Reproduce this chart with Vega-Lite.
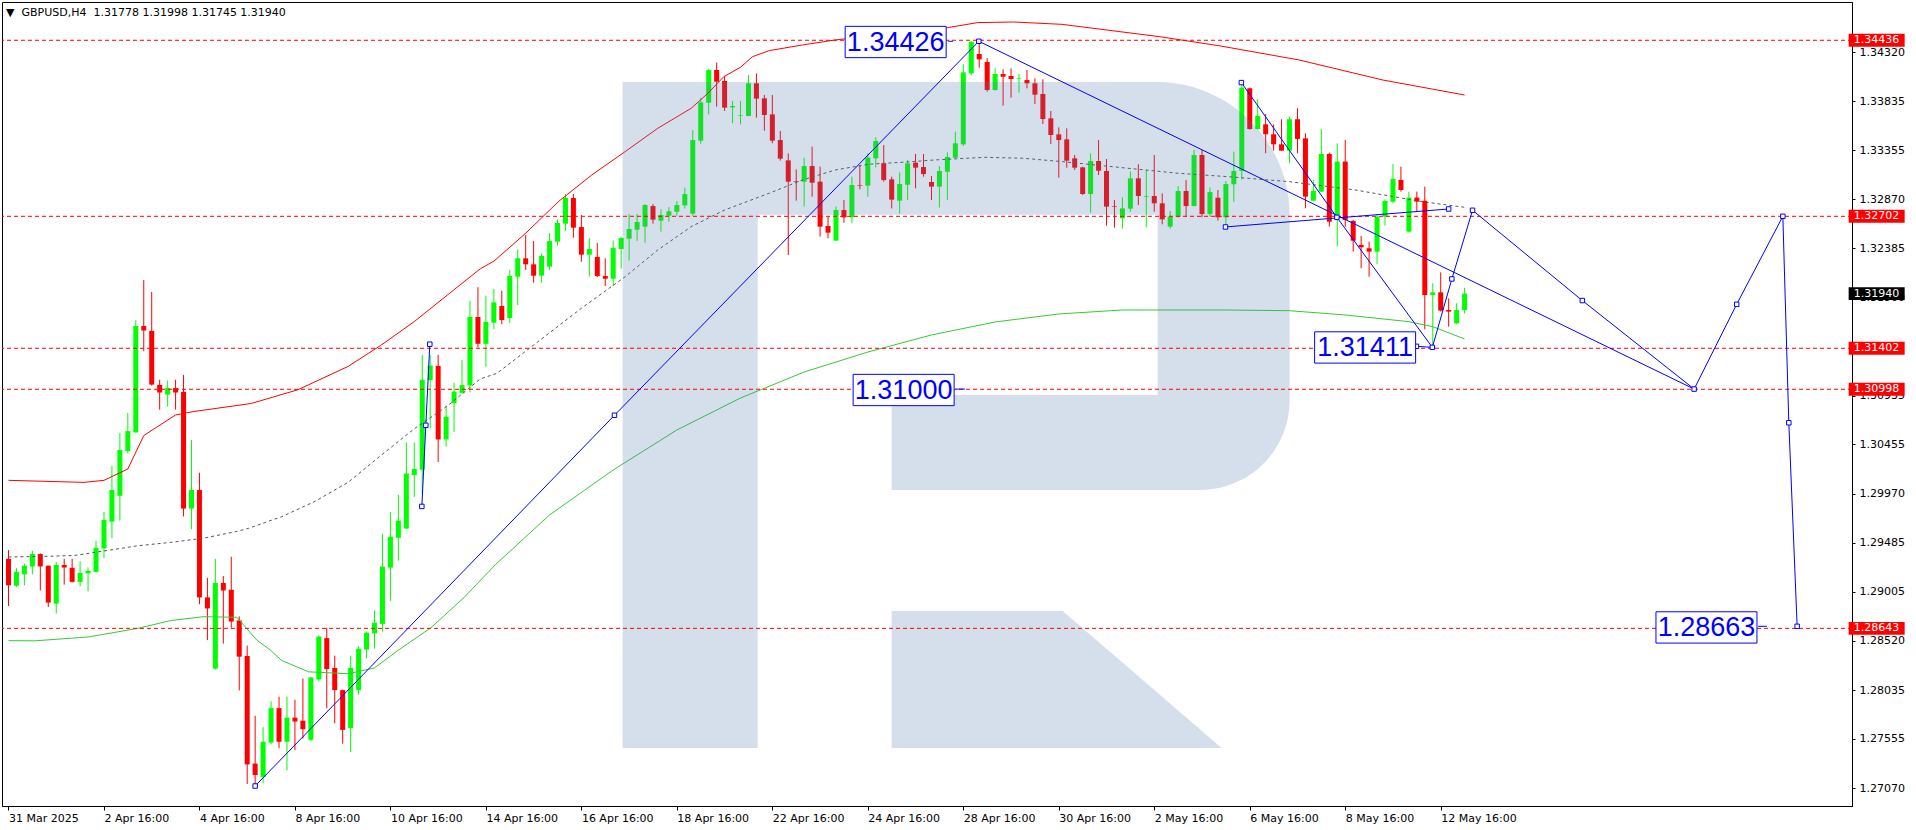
{
"$schema": "https://vega.github.io/schema/vega-lite/v6.json",
"width": 1850, "height": 804, "autosize": "none",
"padding": {"left": 2, "top": 2, "right": 64, "bottom": 24},
"background": "#ffffff",
"title": {"text": "\u25bc\u00a0\u00a0GBPUSD,H4\u00a0\u00a01.31778 1.31998 1.31745 1.31940", "anchor": "start", "frame": "group", "orient": "top", "offset": 0, "baseline": "top", "dy": 16, "dx": 4, "font": "DejaVu Sans", "fontSize": 11, "fontWeight": "normal", "color": "#000000"},
"config": {"font": "DejaVu Sans", "view": {"stroke": "#000000", "strokeWidth": 1},
  "axis": {"labelFont": "DejaVu Sans", "labelFontSize": 11, "labelColor": "#000000", "domainColor": "#000000", "tickColor": "#000000", "grid": false, "title": null}},
"datasets": {
"candles": [
{"i":0,"o":1.29328,"h":1.29413,"l":1.28863,"c":1.29067},
{"i":1,"o":1.29063,"h":1.29236,"l":1.29050,"c":1.29199},
{"i":2,"o":1.29175,"h":1.29280,"l":1.29067,"c":1.29260},
{"i":3,"o":1.29253,"h":1.29406,"l":1.29175,"c":1.29375},
{"i":4,"o":1.29375,"h":1.29382,"l":1.29016,"c":1.29253},
{"i":5,"o":1.29260,"h":1.29262,"l":1.28853,"c":1.28897},
{"i":6,"o":1.28887,"h":1.29297,"l":1.28788,"c":1.29267},
{"i":7,"o":1.29267,"h":1.29328,"l":1.29073,"c":1.29243},
{"i":8,"o":1.29240,"h":1.29328,"l":1.29094,"c":1.29101},
{"i":9,"o":1.29101,"h":1.29304,"l":1.29056,"c":1.29189},
{"i":10,"o":1.29185,"h":1.29243,"l":1.29006,"c":1.29209},
{"i":11,"o":1.29199,"h":1.29504,"l":1.29195,"c":1.29436},
{"i":12,"o":1.29430,"h":1.29789,"l":1.29335,"c":1.29711},
{"i":13,"o":1.29694,"h":1.30244,"l":1.29531,"c":1.30006},
{"i":14,"o":1.29949,"h":1.30569,"l":1.29704,"c":1.30400},
{"i":15,"o":1.30389,"h":1.30766,"l":1.30366,"c":1.30586},
{"i":16,"o":1.30573,"h":1.31678,"l":1.30570,"c":1.31621},
{"i":17,"o":1.31621,"h":1.32075,"l":1.31373,"c":1.31577},
{"i":18,"o":1.31573,"h":1.31957,"l":1.31034,"c":1.31044},
{"i":19,"o":1.31041,"h":1.31092,"l":1.30797,"c":1.30966},
{"i":20,"o":1.30946,"h":1.31085,"l":1.30827,"c":1.31010},
{"i":21,"o":1.31010,"h":1.31092,"l":1.30797,"c":1.30966},
{"i":22,"o":1.30973,"h":1.31139,"l":1.29745,"c":1.29823},
{"i":23,"o":1.29823,"h":1.30498,"l":1.29620,"c":1.30006},
{"i":24,"o":1.30006,"h":1.30176,"l":1.28880,"c":1.28948},
{"i":25,"o":1.28948,"h":1.29141,"l":1.28527,"c":1.28839},
{"i":26,"o":1.28246,"h":1.29328,"l":1.28236,"c":1.29090},
{"i":27,"o":1.29090,"h":1.29158,"l":1.28493,"c":1.29016},
{"i":28,"o":1.29023,"h":1.29348,"l":1.28649,"c":1.28710},
{"i":29,"o":1.28721,"h":1.28761,"l":1.28032,"c":1.28364},
{"i":30,"o":1.28371,"h":1.28473,"l":1.27109,"c":1.27303},
{"i":31,"o":1.27311,"h":1.27782,"l":1.27090,"c":1.27198},
{"i":32,"o":1.27179,"h":1.27669,"l":1.27120,"c":1.27526},
{"i":33,"o":1.27518,"h":1.27925,"l":1.27499,"c":1.27857},
{"i":34,"o":1.27857,"h":1.27970,"l":1.27462,"c":1.27526},
{"i":35,"o":1.27526,"h":1.27970,"l":1.27243,"c":1.27763},
{"i":36,"o":1.27763,"h":1.27940,"l":1.27443,"c":1.27725},
{"i":37,"o":1.27733,"h":1.28148,"l":1.27556,"c":1.27650},
{"i":38,"o":1.27545,"h":1.28167,"l":1.27530,"c":1.28159},
{"i":39,"o":1.28140,"h":1.28574,"l":1.28121,"c":1.28562},
{"i":40,"o":1.28547,"h":1.28649,"l":1.27857,"c":1.28242},
{"i":41,"o":1.28253,"h":1.28374,"l":1.27707,"c":1.28035},
{"i":42,"o":1.28035,"h":1.28040,"l":1.27507,"c":1.27643},
{"i":43,"o":1.27661,"h":1.28374,"l":1.27424,"c":1.28253},
{"i":44,"o":1.28035,"h":1.28468,"l":1.27989,"c":1.28442},
{"i":45,"o":1.28434,"h":1.28611,"l":1.28348,"c":1.28600},
{"i":46,"o":1.28593,"h":1.28819,"l":1.28442,"c":1.28698},
{"i":47,"o":1.28687,"h":1.29573,"l":1.28611,"c":1.29252},
{"i":48,"o":1.29241,"h":1.29788,"l":1.28913,"c":1.29546},
{"i":49,"o":1.29535,"h":1.29957,"l":1.29309,"c":1.29705},
{"i":50,"o":1.29626,"h":1.30474,"l":1.29620,"c":1.30168},
{"i":51,"o":1.30153,"h":1.30474,"l":1.29938,"c":1.30214},
{"i":52,"o":1.30206,"h":1.31337,"l":1.29969,"c":1.31092},
{"i":53,"o":1.31088,"h":1.31337,"l":1.30610,"c":1.31232},
{"i":54,"o":1.31228,"h":1.31337,"l":1.30282,"c":1.30504},
{"i":55,"o":1.30504,"h":1.30836,"l":1.30432,"c":1.30726},
{"i":56,"o":1.30862,"h":1.31062,"l":1.30579,"c":1.30975},
{"i":57,"o":1.30964,"h":1.31288,"l":1.30949,"c":1.31039},
{"i":58,"o":1.31036,"h":1.31872,"l":1.30968,"c":1.31710},
{"i":59,"o":1.31710,"h":1.32004,"l":1.31409,"c":1.31446},
{"i":60,"o":1.31446,"h":1.31921,"l":1.31220,"c":1.31661},
{"i":61,"o":1.31654,"h":1.31986,"l":1.31590,"c":1.31854},
{"i":62,"o":1.31818,"h":1.31969,"l":1.31640,"c":1.31680},
{"i":63,"o":1.31700,"h":1.32173,"l":1.31650,"c":1.32114},
{"i":64,"o":1.32107,"h":1.32376,"l":1.31828,"c":1.32288},
{"i":65,"o":1.32288,"h":1.32518,"l":1.32173,"c":1.32229},
{"i":66,"o":1.32229,"h":1.32458,"l":1.32048,"c":1.32117},
{"i":67,"o":1.32117,"h":1.32337,"l":1.32048,"c":1.32311},
{"i":68,"o":1.32206,"h":1.32537,"l":1.32173,"c":1.32458},
{"i":69,"o":1.32452,"h":1.32672,"l":1.32412,"c":1.32636},
{"i":70,"o":1.32629,"h":1.32921,"l":1.32557,"c":1.32882},
{"i":71,"o":1.32882,"h":1.32921,"l":1.32491,"c":1.32590},
{"i":72,"o":1.32596,"h":1.32715,"l":1.32255,"c":1.32324},
{"i":73,"o":1.32324,"h":1.32485,"l":1.32107,"c":1.32380},
{"i":74,"o":1.32301,"h":1.32439,"l":1.32104,"c":1.32114},
{"i":75,"o":1.32114,"h":1.32288,"l":1.32015,"c":1.32087},
{"i":76,"o":1.32087,"h":1.32462,"l":1.32015,"c":1.32390},
{"i":77,"o":1.32380,"h":1.32501,"l":1.32186,"c":1.32488},
{"i":78,"o":1.32481,"h":1.32724,"l":1.32265,"c":1.32577},
{"i":79,"o":1.32570,"h":1.32724,"l":1.32458,"c":1.32646},
{"i":80,"o":1.32600,"h":1.32823,"l":1.32442,"c":1.32813},
{"i":81,"o":1.32803,"h":1.32823,"l":1.32629,"c":1.32669},
{"i":82,"o":1.32659,"h":1.32770,"l":1.32550,"c":1.32715},
{"i":83,"o":1.32708,"h":1.32793,"l":1.32649,"c":1.32751},
{"i":84,"o":1.32747,"h":1.32852,"l":1.32708,"c":1.32813},
{"i":85,"o":1.32810,"h":1.32984,"l":1.32780,"c":1.32921},
{"i":86,"o":1.32728,"h":1.33552,"l":1.32708,"c":1.33453},
{"i":87,"o":1.33447,"h":1.33870,"l":1.33417,"c":1.33824},
{"i":88,"o":1.33821,"h":1.34156,"l":1.33706,"c":1.34143},
{"i":89,"o":1.34143,"h":1.34215,"l":1.33782,"c":1.34028},
{"i":90,"o":1.34035,"h":1.34084,"l":1.33739,"c":1.33772},
{"i":91,"o":1.33775,"h":1.33838,"l":1.33618,"c":1.33788},
{"i":92,"o":1.33690,"h":1.33838,"l":1.33608,"c":1.33696},
{"i":93,"o":1.33690,"h":1.34094,"l":1.33688,"c":1.34012},
{"i":94,"o":1.34012,"h":1.34110,"l":1.33673,"c":1.33861},
{"i":95,"o":1.33864,"h":1.33897,"l":1.33545,"c":1.33700},
{"i":96,"o":1.33706,"h":1.33897,"l":1.33421,"c":1.33447},
{"i":97,"o":1.33453,"h":1.33542,"l":1.33250,"c":1.33270},
{"i":98,"o":1.33253,"h":1.33322,"l":1.32321,"c":1.33043},
{"i":99,"o":1.33050,"h":1.33164,"l":1.32856,"c":1.33043},
{"i":100,"o":1.33043,"h":1.33279,"l":1.32797,"c":1.33197},
{"i":101,"o":1.33197,"h":1.33388,"l":1.32895,"c":1.33033},
{"i":102,"o":1.33043,"h":1.33191,"l":1.32501,"c":1.32600},
{"i":103,"o":1.32606,"h":1.32698,"l":1.32485,"c":1.32541},
{"i":104,"o":1.32462,"h":1.32797,"l":1.32460,"c":1.32764},
{"i":105,"o":1.32764,"h":1.32862,"l":1.32639,"c":1.32692},
{"i":106,"o":1.32692,"h":1.33092,"l":1.32633,"c":1.33010},
{"i":107,"o":1.33010,"h":1.33207,"l":1.32967,"c":1.33004},
{"i":108,"o":1.33004,"h":1.33322,"l":1.32895,"c":1.33279},
{"i":109,"o":1.33273,"h":1.33480,"l":1.33184,"c":1.33444},
{"i":110,"o":1.33224,"h":1.33404,"l":1.33043,"c":1.33059},
{"i":111,"o":1.33066,"h":1.33092,"l":1.32780,"c":1.32866},
{"i":112,"o":1.32856,"h":1.33135,"l":1.32728,"c":1.33020},
{"i":113,"o":1.33013,"h":1.33256,"l":1.32862,"c":1.33224},
{"i":114,"o":1.33230,"h":1.33316,"l":1.32977,"c":1.33181},
{"i":115,"o":1.33187,"h":1.33316,"l":1.33092,"c":1.33118},
{"i":116,"o":1.33040,"h":1.33099,"l":1.32862,"c":1.32994},
{"i":117,"o":1.32994,"h":1.33197,"l":1.32790,"c":1.33148},
{"i":118,"o":1.33141,"h":1.33332,"l":1.32862,"c":1.33286},
{"i":119,"o":1.33279,"h":1.33536,"l":1.33273,"c":1.33421},
{"i":120,"o":1.33411,"h":1.34199,"l":1.33394,"c":1.34120},
{"i":121,"o":1.34110,"h":1.34426,"l":1.34094,"c":1.34422},
{"i":122,"o":1.34301,"h":1.34422,"l":1.34166,"c":1.34248},
{"i":123,"o":1.34222,"h":1.34260,"l":1.33930,"c":1.33946},
{"i":124,"o":1.33946,"h":1.34160,"l":1.33940,"c":1.34104},
{"i":125,"o":1.34104,"h":1.34150,"l":1.33792,"c":1.34077},
{"i":126,"o":1.34084,"h":1.34160,"l":1.33870,"c":1.34054},
{"i":127,"o":1.34058,"h":1.34104,"l":1.33920,"c":1.34064},
{"i":128,"o":1.34044,"h":1.34143,"l":1.33962,"c":1.34012},
{"i":129,"o":1.34012,"h":1.34061,"l":1.33808,"c":1.33900},
{"i":130,"o":1.33907,"h":1.34051,"l":1.33611,"c":1.33660},
{"i":131,"o":1.33667,"h":1.33739,"l":1.33414,"c":1.33503},
{"i":132,"o":1.33509,"h":1.33578,"l":1.33082,"c":1.33453},
{"i":133,"o":1.33460,"h":1.33568,"l":1.33181,"c":1.33250},
{"i":134,"o":1.33273,"h":1.33306,"l":1.33158,"c":1.33181},
{"i":135,"o":1.33184,"h":1.33190,"l":1.32912,"c":1.32922},
{"i":136,"o":1.32922,"h":1.33322,"l":1.32738,"c":1.33247},
{"i":137,"o":1.33247,"h":1.33453,"l":1.33109,"c":1.33151},
{"i":138,"o":1.33148,"h":1.33266,"l":1.32610,"c":1.32797},
{"i":139,"o":1.32803,"h":1.32862,"l":1.32590,"c":1.32797},
{"i":140,"o":1.32682,"h":1.32889,"l":1.32580,"c":1.32780},
{"i":141,"o":1.32777,"h":1.33142,"l":1.32747,"c":1.33076},
{"i":142,"o":1.33076,"h":1.33214,"l":1.32813,"c":1.32902},
{"i":143,"o":1.32895,"h":1.33158,"l":1.32593,"c":1.32902},
{"i":144,"o":1.32902,"h":1.33306,"l":1.32747,"c":1.32830},
{"i":145,"o":1.32830,"h":1.32928,"l":1.32623,"c":1.32672},
{"i":146,"o":1.32600,"h":1.32754,"l":1.32580,"c":1.32698},
{"i":147,"o":1.32698,"h":1.33000,"l":1.32690,"c":1.32951},
{"i":148,"o":1.32951,"h":1.33059,"l":1.32698,"c":1.32803},
{"i":149,"o":1.32803,"h":1.33355,"l":1.32800,"c":1.33306},
{"i":150,"o":1.33306,"h":1.33355,"l":1.32692,"c":1.32724},
{"i":151,"o":1.32724,"h":1.32987,"l":1.32698,"c":1.32941},
{"i":152,"o":1.32885,"h":1.32961,"l":1.32659,"c":1.32692},
{"i":153,"o":1.32692,"h":1.33050,"l":1.32616,"c":1.33020},
{"i":154,"o":1.33017,"h":1.33339,"l":1.32846,"c":1.33149},
{"i":155,"o":1.33149,"h":1.34019,"l":1.33066,"c":1.33970},
{"i":156,"o":1.33963,"h":1.33970,"l":1.33555,"c":1.33562},
{"i":157,"o":1.33562,"h":1.33855,"l":1.33555,"c":1.33690},
{"i":158,"o":1.33608,"h":1.33710,"l":1.33323,"c":1.33510},
{"i":159,"o":1.33510,"h":1.33608,"l":1.33349,"c":1.33411},
{"i":160,"o":1.33411,"h":1.33658,"l":1.33345,"c":1.33349},
{"i":161,"o":1.33349,"h":1.33684,"l":1.33224,"c":1.33658},
{"i":162,"o":1.33658,"h":1.33766,"l":1.33323,"c":1.33464},
{"i":163,"o":1.33470,"h":1.33520,"l":1.32781,"c":1.32896},
{"i":164,"o":1.32856,"h":1.33060,"l":1.32850,"c":1.32952},
{"i":165,"o":1.32945,"h":1.33562,"l":1.32940,"c":1.33316},
{"i":166,"o":1.33316,"h":1.33329,"l":1.32600,"c":1.32649},
{"i":167,"o":1.32715,"h":1.33421,"l":1.32403,"c":1.33241},
{"i":168,"o":1.33241,"h":1.33454,"l":1.32600,"c":1.32666},
{"i":169,"o":1.32656,"h":1.32666,"l":1.32354,"c":1.32462},
{"i":170,"o":1.32420,"h":1.32508,"l":1.32190,"c":1.32397},
{"i":171,"o":1.32387,"h":1.32452,"l":1.32108,"c":1.32354},
{"i":172,"o":1.32354,"h":1.32725,"l":1.32232,"c":1.32699},
{"i":173,"o":1.32699,"h":1.32869,"l":1.32610,"c":1.32853},
{"i":174,"o":1.32846,"h":1.33217,"l":1.32830,"c":1.33070},
{"i":175,"o":1.33060,"h":1.33191,"l":1.32945,"c":1.32961},
{"i":176,"o":1.32551,"h":1.32945,"l":1.32545,"c":1.32886},
{"i":177,"o":1.32886,"h":1.32945,"l":1.32748,"c":1.32846},
{"i":178,"o":1.32856,"h":1.32994,"l":1.31589,"c":1.31927},
{"i":179,"o":1.31927,"h":1.32042,"l":1.31411,"c":1.31953},
{"i":180,"o":1.31953,"h":1.32150,"l":1.31763,"c":1.31773},
{"i":181,"o":1.31779,"h":1.31894,"l":1.31615,"c":1.31763},
{"i":182,"o":1.31648,"h":1.31845,"l":1.31640,"c":1.31779},
{"i":183,"o":1.31778,"h":1.31998,"l":1.31745,"c":1.31940}
],
"bands": [
{"b":"u","i":0,"p":1.30101},{"b":"u","i":9.5,"p":1.30081},{"b":"u","i":12,"p":1.30101},{"b":"u","i":15,"p":1.30213},{"b":"u","i":17,"p":1.30542},{"b":"u","i":21,"p":1.30745},{"b":"u","i":23.3,"p":1.30779},{"b":"u","i":30.5,"p":1.30858},{"b":"u","i":36.4,"p":1.30994},{"b":"u","i":42.7,"p":1.31224},{"b":"u","i":46.8,"p":1.31431},{"b":"u","i":51,"p":1.31665},{"b":"u","i":55.2,"p":1.31929},{"b":"u","i":59.3,"p":1.32185},{"b":"u","i":61,"p":1.3226},{"b":"u","i":65,"p":1.32535},{"b":"u","i":69.1,"p":1.32846},{"b":"u","i":73.3,"p":1.33109},{"b":"u","i":77.5,"p":1.33339},{"b":"u","i":81.6,"p":1.33569},{"b":"u","i":85.8,"p":1.33766},{"b":"u","i":87.9,"p":1.33914},{"b":"u","i":89.9,"p":1.34077},{"b":"u","i":92,"p":1.3417},{"b":"u","i":93.5,"p":1.34274},{"b":"u","i":95.6,"p":1.34334},{"b":"u","i":99.8,"p":1.3439},{"b":"u","i":103.9,"p":1.34439},{"b":"u","i":111,"p":1.345},{"b":"u","i":118,"p":1.3456},{"b":"u","i":121.8,"p":1.3461},{"b":"u","i":126.3,"p":1.34616},{"b":"u","i":132.4,"p":1.34593},{"b":"u","i":144.7,"p":1.34471},{"b":"u","i":152.3,"p":1.3438},{"b":"u","i":162.2,"p":1.34242},{"b":"u","i":172.7,"p":1.34045},{"b":"u","i":183,"p":1.33897},
{"b":"m","i":0,"p":1.29346},{"b":"m","i":5,"p":1.29353},{"b":"m","i":8.3,"p":1.29361},{"b":"m","i":12,"p":1.29405},{"b":"m","i":16.2,"p":1.29456},{"b":"m","i":20.4,"p":1.2949},{"b":"m","i":24.5,"p":1.29531},{"b":"m","i":28.7,"p":1.29598},{"b":"m","i":30.2,"p":1.29629},{"b":"m","i":34.3,"p":1.29742},{"b":"m","i":38.5,"p":1.29893},{"b":"m","i":42.7,"p":1.30082},{"b":"m","i":46.8,"p":1.30346},{"b":"m","i":51,"p":1.30609},{"b":"m","i":55.2,"p":1.30836},{"b":"m","i":59.3,"p":1.311},{"b":"m","i":61.4,"p":1.31156},{"b":"m","i":72,"p":1.31796},{"b":"m","i":77.5,"p":1.32107},{"b":"m","i":81.6,"p":1.3237},{"b":"m","i":85.8,"p":1.326},{"b":"m","i":90,"p":1.32764},{"b":"m","i":95.6,"p":1.32929},{"b":"m","i":99.8,"p":1.3306},{"b":"m","i":103.9,"p":1.33158},{"b":"m","i":108.1,"p":1.33215},{"b":"m","i":112.3,"p":1.33234},{"b":"m","i":116.4,"p":1.33257},{"b":"m","i":122.7,"p":1.33283},{"b":"m","i":127.5,"p":1.33274},{"b":"m","i":132.5,"p":1.3324},{"b":"m","i":138.7,"p":1.33191},{"b":"m","i":142.9,"p":1.33158},{"b":"m","i":147,"p":1.33126},{"b":"m","i":153.3,"p":1.33092},{"b":"m","i":161,"p":1.33043},{"b":"m","i":169.3,"p":1.32961},{"b":"m","i":177.7,"p":1.32846},{"b":"m","i":183,"p":1.32791},
{"b":"g","i":0,"p":1.28522},{"b":"g","i":3.3,"p":1.2852},{"b":"g","i":10,"p":1.28558},{"b":"g","i":16.2,"p":1.28642},{"b":"g","i":20.4,"p":1.2872},{"b":"g","i":24.5,"p":1.28758},{"b":"g","i":28.7,"p":1.28752},{"b":"g","i":31.2,"p":1.28528},{"b":"g","i":32.9,"p":1.2843},{"b":"g","i":34.3,"p":1.28328},{"b":"g","i":37.7,"p":1.28215},{"b":"g","i":42.7,"p":1.28196},{"b":"g","i":46,"p":1.28253},{"b":"g","i":48.9,"p":1.28423},{"b":"g","i":53.1,"p":1.28649},{"b":"g","i":57.3,"p":1.28951},{"b":"g","i":61.2,"p":1.29271},{"b":"g","i":68,"p":1.2976},{"b":"g","i":76,"p":1.30203},{"b":"g","i":84,"p":1.30597},{"b":"g","i":92,"p":1.30912},{"b":"g","i":100,"p":1.31168},{"b":"g","i":108,"p":1.31365},{"b":"g","i":116,"p":1.31533},{"b":"g","i":124,"p":1.31661},{"b":"g","i":132,"p":1.3174},{"b":"g","i":140,"p":1.31779},{"b":"g","i":153,"p":1.31779},{"b":"g","i":161,"p":1.31772},{"b":"g","i":168,"p":1.3173},{"b":"g","i":176,"p":1.31664},{"b":"g","i":179,"p":1.31615},{"b":"g","i":183,"p":1.31494}
],
"levels": [{"p":1.34436,"t":"1.34436"},{"p":1.32702,"t":"1.32702"},{"p":1.31402,"t":"1.31402"},{"p":1.30998,"t":"1.30998"},{"p":1.28643,"t":"1.28643"}],
"last": [{"p":1.3194,"t":"1.31940"}],
"fc": [
{"s":"A","k":0,"i":31,"p":1.2709},{"s":"A","k":1,"i":76.16,"p":1.30742},{"s":"A","k":2,"i":121.95,"p":1.34426},
{"s":"W","k":0,"i":51.95,"p":1.29844},{"s":"W","k":1,"i":52.45,"p":1.30643},{"s":"W","k":2,"i":52.95,"p":1.31442},
{"s":"B","k":0,"i":121.95,"p":1.34426},{"s":"B","k":1,"i":211.85,"p":1.31},
{"s":"C","k":0,"i":154.95,"p":1.34019},{"s":"C","k":1,"i":166.95,"p":1.32692},{"s":"C","k":2,"i":178.95,"p":1.31411},
{"s":"D","k":0,"i":152.95,"p":1.32597},{"s":"D","k":1,"i":166.95,"p":1.32686},{"s":"D","k":2,"i":181,"p":1.32774},
{"s":"E","k":0,"i":178.95,"p":1.31411},{"s":"E","k":1,"i":181.4,"p":1.32085},{"s":"E","k":2,"i":184,"p":1.32761},{"s":"E","k":3,"i":197.8,"p":1.31872},{"s":"E","k":4,"i":211.85,"p":1.31},{"s":"E","k":5,"i":217.2,"p":1.31835},{"s":"E","k":6,"i":223,"p":1.32702},{"s":"E","k":7,"i":223.75,"p":1.30668},{"s":"E","k":8,"i":224.8,"p":1.28663},
{"s":"K1","k":0,"i":118.1,"p":1.34426},{"s":"K1","k":1,"i":118.7,"p":1.34426},
{"s":"K2","k":0,"i":119,"p":1.31},{"s":"K2","k":1,"i":120.2,"p":1.31},
{"s":"K3","k":0,"i":176.95,"p":1.31421},{"s":"K3","k":1,"i":178.95,"p":1.31411},
{"s":"K4","k":0,"i":219.9,"p":1.28663},{"s":"K4","k":1,"i":221,"p":1.28663}
],
"nodes": [
{"i":31,"p":1.2709},{"i":76.16,"p":1.30742},{"i":121.95,"p":1.34426},
{"i":51.95,"p":1.29844},{"i":52.45,"p":1.30643},{"i":52.95,"p":1.31442},
{"i":154.95,"p":1.34019},{"i":166.95,"p":1.32692},{"i":178.95,"p":1.31411},{"i":152.95,"p":1.32597},{"i":181,"p":1.32774},
{"i":181.4,"p":1.32085},{"i":184,"p":1.32761},{"i":197.8,"p":1.31872},{"i":211.85,"p":1.31},{"i":217.2,"p":1.31835},{"i":223,"p":1.32702},{"i":223.75,"p":1.30668},{"i":224.8,"p":1.28663},{"i":176.95,"p":1.31421}
],
"notes": [{"i":111.5,"p":1.34419,"t":"1.34426"},{"i":112.5,"p":1.30991,"t":"1.31000"},{"i":170.5,"p":1.3141,"t":"1.31411"},{"i":213.4,"p":1.28652,"t":"1.28663"}],
"logo": [{"i":119.1,"p":1.30745}]
},
"layer": [
{"data":{"name":"candles"},"mark":{"type":"rule","strokeWidth":1},
 "encoding":{
  "x":{"field":"i","type":"quantitative","scale":{"domain":[-0.1875,231.0625],"nice":false,"zero":false},
   "axis":{"orient":"bottom","values":[0,12,24,36,48,60,72,84,96,108,120,132,144,156,168,180],
    "labelExpr":"['31 Mar 2025','2 Apr 16:00','4 Apr 16:00','8 Apr 16:00','10 Apr 16:00','14 Apr 16:00','16 Apr 16:00','18 Apr 16:00','22 Apr 16:00','24 Apr 16:00','28 Apr 16:00','30 Apr 16:00','2 May 16:00','6 May 16:00','8 May 16:00','12 May 16:00'][round(datum.value/12)]",
    "labelAlign":"left","labelBaseline":"top","tickSize":4,"labelPadding":2,"labelFlush":false,"labelOverlap":false,"title":null,"grid":false,"zindex":0}},
  "y":{"field":"l","type":"quantitative","scale":{"domain":[1.26893,1.34813],"nice":false,"zero":false},
   "axis":{"orient":"right","values":[1.2707,1.27555,1.28035,1.2852,1.29005,1.29485,1.2997,1.30455,1.30935,1.319,1.32385,1.3287,1.33355,1.33835,1.3432],
    "format":".5f","tickSize":3,"labelPadding":4,"title":null,"grid":false,"zindex":0}},
  "y2":{"field":"h"},
  "color":{"condition":{"test":"datum.c >= datum.o","value":"#00ff00"},"value":"#ff0000"}}},
{"data":{"name":"candles"},"mark":{"type":"bar","size":5},
 "encoding":{
  "x":{"field":"i","type":"quantitative"},
  "y":{"field":"o","type":"quantitative"},
  "y2":{"field":"c"},
  "color":{"condition":{"test":"datum.c >= datum.o","value":"#00ff00"},"value":"#ff0000"}}},
{"data":{"name":"bands"},"transform":[{"filter":"datum.b == 'u'"}],"mark":{"type":"line","color":"#ff0000","strokeWidth":1},
 "encoding":{"x":{"field":"i","type":"quantitative"},"y":{"field":"p","type":"quantitative"}}},
{"data":{"name":"bands"},"transform":[{"filter":"datum.b == 'g'"}],"mark":{"type":"line","color":"#33cc33","strokeWidth":1},
 "encoding":{"x":{"field":"i","type":"quantitative"},"y":{"field":"p","type":"quantitative"}}},
{"data":{"name":"bands"},"transform":[{"filter":"datum.b == 'm'"}],"mark":{"type":"line","color":"#555555","strokeWidth":1,"strokeDash":[3,3]},
 "encoding":{"x":{"field":"i","type":"quantitative"},"y":{"field":"p","type":"quantitative"}}},
{"data":{"name":"logo"},"mark":{"type":"point","filled":true,"fill":"#587db0","opacity":0.25,"strokeWidth":0,"size":444889,
  "shape":"M-1,-0.9985H-0.5952V0.9985H-1Z M-0.5952,-0.9985H0.6012C0.8201,-0.9985 1,-0.8186 1,-0.6V-0.045C1,0.105 0.8801,0.2249 0.7301,0.2249H-0.1934V-0.06H0.6042V-0.6H-0.5952Z M-0.1934,0.5877H0.3193L0.7961,0.9985H-0.1934Z"},
 "encoding":{"x":{"field":"i","type":"quantitative"},"y":{"field":"p","type":"quantitative"}}},
{"data":{"name":"levels"},"mark":{"type":"rule","color":"#ff0000","strokeWidth":1,"strokeDash":[4,3]},
 "encoding":{"y":{"field":"p","type":"quantitative"}}},
{"data":{"name":"fc"},"mark":{"type":"line","color":"#0000ff","strokeWidth":1},
 "encoding":{"x":{"field":"i","type":"quantitative"},"y":{"field":"p","type":"quantitative"},"detail":{"field":"s"},"order":{"field":"k"}}},
{"data":{"name":"nodes"},"mark":{"type":"point","shape":"square","size":20,"filled":false,"fill":"#ffffff","stroke":"#0000ff","strokeWidth":1,"opacity":1},
 "encoding":{"x":{"field":"i","type":"quantitative"},"y":{"field":"p","type":"quantitative"}}},
{"data":{"name":"notes"},"mark":{"type":"point","shape":"M-1,-0.31H1V0.31H-1Z","size":10201,"filled":false,"fill":"#ffffff","stroke":"#0000ff","strokeWidth":1,"opacity":1},
 "encoding":{"x":{"field":"i","type":"quantitative"},"y":{"field":"p","type":"quantitative"}}},
{"data":{"name":"notes"},"mark":{"type":"text","font":"Liberation Sans","fontSize":27,"color":"#0000ff","align":"center","baseline":"middle","dy":1},
 "encoding":{"x":{"field":"i","type":"quantitative"},"y":{"field":"p","type":"quantitative"},"text":{"field":"t"}}},
{"data":{"name":"levels"},"mark":{"type":"point","shape":"M-1,-0.23H1V0.23H-1Z","size":3136,"filled":true,"color":"#ff0000","opacity":1,"strokeWidth":0},
 "encoding":{"x":{"datum":234.79,"type":"quantitative"},"y":{"field":"p","type":"quantitative"}}},
{"data":{"name":"levels"},"mark":{"type":"text","font":"DejaVu Sans","fontSize":11,"color":"#ffffff","align":"left","baseline":"middle"},
 "encoding":{"x":{"datum":231.91,"type":"quantitative"},"y":{"field":"p","type":"quantitative"},"text":{"field":"t"}}},
{"data":{"name":"last"},"mark":{"type":"point","shape":"M-1,-0.23H1V0.23H-1Z","size":3136,"filled":true,"color":"#000000","opacity":1,"strokeWidth":0},
 "encoding":{"x":{"datum":234.79,"type":"quantitative"},"y":{"field":"p","type":"quantitative"}}},
{"data":{"name":"last"},"mark":{"type":"text","font":"DejaVu Sans","fontSize":11,"color":"#ffffff","align":"left","baseline":"middle"},
 "encoding":{"x":{"datum":231.91,"type":"quantitative"},"y":{"field":"p","type":"quantitative"},"text":{"field":"t"}}}
]
}
